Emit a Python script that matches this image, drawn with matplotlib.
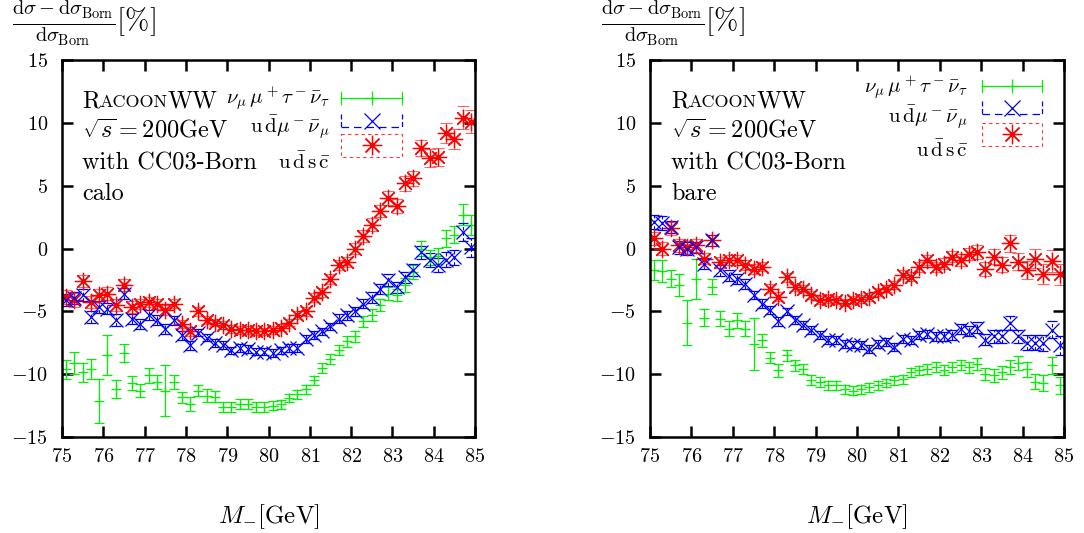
import matplotlib
matplotlib.use('Agg')
import matplotlib.pyplot as plt
import numpy as np
from matplotlib.ticker import FuncFormatter
from matplotlib.lines import Line2D

plt.rcParams['font.family'] = 'serif'
plt.rcParams['font.serif'] = ['cmr10']
plt.rcParams['mathtext.fontset'] = 'cm'
plt.rcParams['axes.unicode_minus'] = False

# bin centres of M_- [GeV]
mass = np.round(np.arange(75.1, 85.0, 0.2), 1)

# ---- calo (left) ----
calo_lep = [-9.6, -9.1, -9.85, -9.6, -12.1, -8.5, -11.2, -8.3, -10.7, -11.3,
            -10.1, -10.65, -11.3, -10.65, -11.85, -12.4, -11.3, -11.7, -11.8, -12.6,
            -12.6, -12.4, -12.4, -12.6, -12.65, -12.5, -12.4, -11.9, -11.6, -11.2,
            -10.5, -9.5, -8.8, -8.1, -7.4, -7.0, -5.8, -5.3, -4.5, -3.6,
            -3.7, -2.9, -1.9, 0.0, -0.7, -0.6, 0.8, 1.1, 2.7, 1.9]
calo_lep_err = [0.75, 0.85, 0.75, 0.8, 1.75, 1.6, 0.7, 0.7, 0.55, 0.55,
                0.6, 0.55, 2.05, 0.55, 0.45, 0.55, 0.45, 0.5, 0.45, 0.4,
                0.4, 0.4, 0.4, 0.4, 0.4, 0.35, 0.35, 0.35, 0.35, 0.35,
                0.35, 0.4, 0.4, 0.4, 0.4, 0.45, 0.45, 0.45, 0.5, 0.5,
                0.5, 0.55, 0.55, 0.6, 0.6, 0.65, 0.7, 0.7, 0.85, 0.8]
calo_semi = [-4.1, -3.95, -3.7, -5.45, -4.65, -4.8, -5.7, -3.6, -5.6, -6.0,
             -5.3, -5.7, -6.4, -5.7, -6.9, -7.7, -6.7, -7.1, -7.5, -7.7,
             -8.1, -7.9, -8.0, -8.2, -8.2, -8.3, -8.1, -7.9, -7.9, -7.2,
             -6.9, -6.6, -6.2, -5.6, -5.3, -5.0, -4.4, -3.9, -3.2, -2.5,
             -3.1, -2.3, -1.7, -0.3, -0.9, -1.3, -0.9, -0.7, 1.3, 0.1]
calo_semi_err = [0.5, 0.5, 0.5, 0.45, 0.45, 0.45, 0.45, 0.45, 0.4, 0.4,
                 0.4, 0.4, 0.4, 0.35, 0.35, 0.35, 0.3, 0.3, 0.3, 0.3,
                 0.3, 0.3, 0.3, 0.3, 0.3, 0.3, 0.3, 0.3, 0.3, 0.3,
                 0.3, 0.3, 0.3, 0.35, 0.35, 0.35, 0.35, 0.4, 0.4, 0.45,
                 0.45, 0.45, 0.5, 0.5, 0.55, 0.55, 0.6, 0.6, 0.7, 0.75]
calo_had = [-3.85, -4.1, -2.6, -4.25, -3.7, -3.6, -4.5, -2.9, -4.65, -4.4,
            -4.25, -4.4, -4.9, -4.4, -6.0, -6.6, -5.0, -5.7, -5.9, -6.1,
            -6.4, -6.5, -6.5, -6.6, -6.6, -6.5, -6.3, -5.9, -5.3, -5.0,
            -3.9, -3.5, -2.4, -1.3, -1.1, 0.0, 1.0, 1.9, 3.0, 4.0,
            3.4, 5.2, 5.6, 8.0, 7.2, 7.3, 9.2, 8.7, 10.4, 10.1]
calo_had_err = [0.55, 0.55, 0.5, 0.5, 0.5, 0.5, 0.45, 0.45, 0.45, 0.4,
                0.4, 0.4, 0.4, 0.35, 0.35, 0.35, 0.35, 0.3, 0.3, 0.3,
                0.3, 0.3, 0.3, 0.3, 0.3, 0.3, 0.3, 0.3, 0.3, 0.35,
                0.35, 0.35, 0.4, 0.4, 0.4, 0.45, 0.45, 0.5, 0.5, 0.55,
                0.55, 0.6, 0.6, 0.65, 0.7, 0.7, 0.8, 0.8, 0.9, 0.9]

# ---- bare (right) ----
bare_lep = [-1.7, -1.8, -2.4, -2.9, -5.9, -2.4, -5.5, -3.05, -5.6, -6.4,
            -5.7, -6.4, -7.6, -7.3, -8.7, -9.7, -8.5, -9.3, -9.6, -10.5,
            -10.65, -10.9, -10.9, -11.2, -11.3, -11.2, -11.05, -10.9, -10.7, -10.5,
            -10.4, -9.85, -9.7, -9.6, -9.45, -9.7, -9.45, -9.3, -9.45, -9.2,
            -10.0, -10.1, -9.85, -9.45, -9.1, -9.6, -10.6, -10.7, -9.3, -10.9]
bare_lep_err = [0.8, 0.85, 0.7, 0.9, 1.8, 1.6, 0.7, 0.6, 0.6, 0.6,
                0.6, 0.6, 2.1, 0.5, 0.45, 0.5, 0.45, 0.45, 0.4, 0.4,
                0.4, 0.35, 0.35, 0.35, 0.35, 0.35, 0.35, 0.35, 0.35, 0.35,
                0.35, 0.35, 0.35, 0.4, 0.4, 0.4, 0.4, 0.4, 0.45, 0.45,
                0.5, 0.5, 0.5, 0.55, 0.55, 0.6, 0.6, 0.65, 0.7, 0.7]
bare_semi = [2.1, 2.0, 1.7, 0.1, 0.0, 0.1, -1.2, 0.65, -1.75, -2.15,
             -2.4, -2.8, -3.7, -4.4, -4.9, -5.8, -5.0, -5.7, -6.1, -6.5,
             -6.9, -7.3, -7.3, -7.6, -7.65, -7.7, -8.0, -7.6, -7.45, -7.85,
             -7.2, -7.3, -6.9, -6.8, -7.0, -7.0, -6.85, -6.4, -6.55, -6.3,
             -7.25, -7.0, -7.0, -5.9, -7.0, -7.5, -7.5, -7.5, -6.45, -7.7]
bare_semi_err = [0.55, 0.55, 0.5, 0.5, 0.5, 0.45, 0.45, 0.45, 0.4, 0.4,
                 0.4, 0.4, 0.35, 0.35, 0.35, 0.35, 0.3, 0.3, 0.3, 0.3,
                 0.3, 0.3, 0.3, 0.3, 0.3, 0.3, 0.3, 0.3, 0.3, 0.3,
                 0.3, 0.3, 0.3, 0.35, 0.35, 0.35, 0.4, 0.4, 0.4, 0.45,
                 0.45, 0.5, 0.5, 0.55, 0.55, 0.6, 0.6, 0.65, 0.7, 0.75]
bare_had = [0.8, 0.0, 1.6, 0.25, 0.1, 0.25, -0.8, 0.65, -1.1, -0.95,
            -0.9, -1.35, -1.6, -1.45, -3.2, -3.85, -2.3, -3.1, -3.2, -3.7,
            -4.1, -4.0, -4.1, -4.3, -4.1, -4.0, -3.85, -3.45, -3.2, -2.9,
            -2.1, -2.25, -1.45, -0.9, -1.5, -1.2, -0.65, -0.9, -0.45, -0.25,
            -1.65, -0.65, -1.3, 0.4, -1.05, -1.7, -0.8, -2.0, -1.0, -2.05]
bare_had_err = [0.55, 0.55, 0.5, 0.5, 0.5, 0.5, 0.45, 0.45, 0.45, 0.4,
                0.4, 0.4, 0.4, 0.35, 0.35, 0.35, 0.35, 0.3, 0.3, 0.3,
                0.3, 0.3, 0.3, 0.3, 0.3, 0.3, 0.3, 0.3, 0.3, 0.35,
                0.35, 0.35, 0.4, 0.4, 0.4, 0.45, 0.45, 0.5, 0.5, 0.55,
                0.55, 0.6, 0.6, 0.65, 0.7, 0.7, 0.75, 0.8, 0.85, 0.85]

labels = [r'$\nu_\mu\,\mu^+\tau^-\bar{\nu}_\tau$',
          r'$\mathrm{u}\,\bar{\mathrm{d}}\mu^-\bar{\nu}_\mu$',
          r'$\mathrm{u}\,\bar{\mathrm{d}}\,\mathrm{s}\,\bar{\mathrm{c}}$']
info = [r'$\sqrt{s}=200\mathrm{GeV}$', 'with CC03-Born']
GREEN, BLUE, RED = '#00f000', '#0000ff', '#ff0000'
STAR = (8, 2, 0)

W, H = 1084, 533
fig = plt.figure(figsize=(W / 100, H / 100), dpi=100)


def fxy(px, py):
    return px / W, 1 - py / H


def draw(ax, lep, lep_e, semi, semi_e, had, had_e):
    ax.errorbar(mass, lep, yerr=lep_e, fmt='+', color=GREEN, ms=7, mew=0.9,
                elinewidth=0.9, capsize=3.6, capthick=0.9)
    eb = ax.errorbar(mass, semi, yerr=semi_e, fmt='x', color=BLUE, ms=10.5, mew=0.9,
                     elinewidth=0.8, capsize=3.6, capthick=0.8)
    eb[2][0].set_linestyle((0, (3, 2)))
    eb = ax.errorbar(mass, had, yerr=had_e, fmt='none', ecolor=RED, alpha=0.6,
                     elinewidth=0.8, capsize=4, capthick=0.8)
    eb[2][0].set_linestyle((0, (2, 2)))
    ax.plot(mass, had, ls='none', marker=STAR, color=RED, ms=12.5, mew=0.9)
    ax.set_xlim(75, 85)
    ax.set_ylim(-15, 15)
    ax.set_xticks(range(75, 86))
    ax.set_yticks(range(-15, 16, 5))
    fmt = FuncFormatter(lambda v, p: f'${v:g}$')
    ax.xaxis.set_major_formatter(fmt)
    ax.yaxis.set_major_formatter(fmt)
    ax.tick_params(direction='in', length=8, width=1.8, top=True, right=True,
                   labelsize=14.5, pad=8)
    ax.tick_params(axis='y', pad=10)
    for s in ax.spines.values():
        s.set_linewidth(1.8)
    ax.set_xlabel(r'$M_{-}[\mathrm{GeV}]$', fontsize=18, labelpad=26)


def text_block(px, py0, last):
    # RACOONWW in small caps
    x, y = fxy(px, py0)
    fig.canvas.draw()
    rend = fig.canvas.get_renderer()
    r = fig.text(x, y, 'R', fontsize=17.5, va='baseline')
    bb = r.get_window_extent(rend)
    a = fig.text(bb.x1 / W, y, 'ACOON', fontsize=13, va='baseline')
    bb = a.get_window_extent(rend)
    fig.text(bb.x1 / W, y, 'WW', fontsize=17.5, va='baseline')
    for k, s in enumerate(info + [last]):
        xx, yy = fxy(px, py0 + 31 * (k + 1))
        fig.text(xx, yy, s, fontsize=17.5, va='baseline')


def legend(lx, sx0, sx1, rows_txt, g_y, b_y, r_y):
    # labels right aligned
    for s, ty in zip(labels, rows_txt):
        x, y = fxy(lx, ty)
        fig.text(x, y, s, fontsize=15, ha='right', va='center')
    tr = fig.transFigure
    xm = (sx0 + sx1) / 2
    # green: solid bar with caps and + marker
    fig.add_artist(Line2D([sx0 / W, sx1 / W], [1 - g_y / H] * 2, color=GREEN, lw=0.9, transform=tr))
    for xe in (sx0, sx1):
        fig.add_artist(Line2D([xe / W] * 2, [1 - (g_y - 6) / H, 1 - (g_y + 6) / H], color=GREEN, lw=0.9, transform=tr))
    fig.add_artist(Line2D([xm / W], [1 - g_y / H], marker='+', ms=10, mew=0.9, color=GREEN, transform=tr))
    # blue: dashed bar, caps, x marker
    fig.add_artist(Line2D([sx0 / W, sx1 / W], [1 - (b_y + 6) / H] * 2, color=BLUE, lw=0.9,
                          ls=(0, (6, 4)), transform=tr))
    for xe in (sx0, sx1):
        fig.add_artist(Line2D([xe / W] * 2, [1 - (b_y - 7) / H, 1 - (b_y + 6) / H], color=BLUE, lw=0.9,
                              ls=(0, (4, 2)), transform=tr))
    fig.add_artist(Line2D([xm / W], [1 - b_y / H], marker='x', ms=12, mew=0.9, color=BLUE, transform=tr))
    # red: dotted box, star marker
    xs = [sx0, sx1, sx1, sx0, sx0]
    ys = [r_y - 11, r_y - 11, r_y + 12, r_y + 12, r_y - 11]
    fig.add_artist(Line2D([v / W for v in xs], [1 - v / H for v in ys], color=RED, lw=0.8,
                          ls=(0, (3, 3)), alpha=0.8, transform=tr))
    fig.add_artist(Line2D([xm / W], [1 - r_y / H], marker=STAR, ms=14, mew=0.9, color=RED, transform=tr))


ylab = r'$\frac{\mathrm{d}\sigma-\mathrm{d}\sigma_{\mathrm{Born}}}{\mathrm{d}\sigma_{\mathrm{Born}}}[\%]$'

ax1 = fig.add_axes([62 / W, 1 - 437 / H, 413 / W, 377 / H])
draw(ax1, calo_lep, calo_lep_err, calo_semi, calo_semi_err, calo_had, calo_had_err)
ax2 = fig.add_axes([650 / W, 1 - 437 / H, 414 / W, 377 / H])
draw(ax2, bare_lep, bare_lep_err, bare_semi, bare_semi_err, bare_had, bare_had_err)

for px in (12, 601):
    x, y = fxy(px, 23)
    fig.text(x, y, ylab, fontsize=21, va='center', ha='left')

text_block(82, 107, 'calo')
text_block(671, 107, 'bare')

legend(330, 341, 402, [98, 128, 162], 98, 121, 145)
legend(968, 982, 1042, [87, 118, 150], 86, 108, 134)

fig.savefig('out.png', dpi=100)
